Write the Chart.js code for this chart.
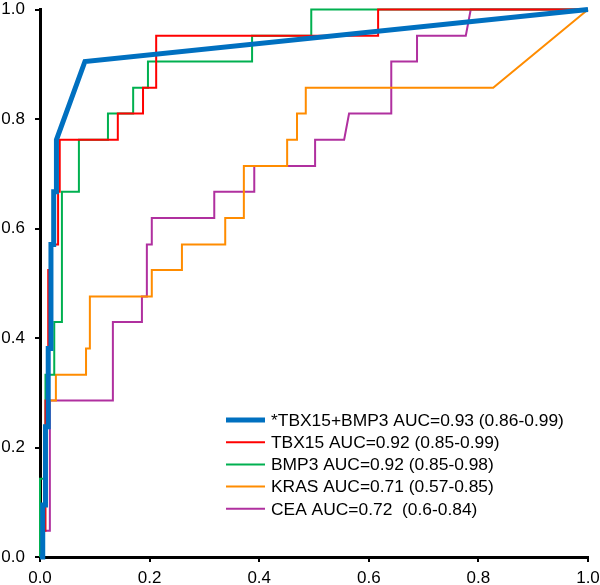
<!DOCTYPE html>
<html>
<head>
<meta charset="utf-8">
<script src="https://cdn.jsdelivr.net/npm/chart.js@4/dist/chart.umd.min.js"></script>
<style>
  html, body { margin: 0; padding: 0; background: #fff; }
  #wrap { width: 600px; height: 585px; position: relative; }
</style>
</head>
<body>
<div id="wrap"><canvas id="c" width="600" height="585"></canvas></div>
<script>
// ---- Data (false positive rate = x, sensitivity = y) ----
const seriesLabels = [
  "*TBX15+BMP3 AUC=0.93 (0.86-0.99)",
  "TBX15 AUC=0.92 (0.85-0.99)",
  "BMP3 AUC=0.92 (0.85-0.98)",
  "KRAS AUC=0.71 (0.57-0.85)",
  "CEA AUC=0.72  (0.6-0.84)"
];
const comboX = [0, 0.005, 0.005, 0.01, 0.01, 0.015, 0.015, 0.02, 0.02, 0.025, 0.025, 0.03, 0.03, 0.082, 1];
const comboY = [0, 0, 0.095, 0.095, 0.238, 0.238, 0.381, 0.381, 0.571, 0.571, 0.667, 0.667, 0.762, 0.905, 1];

const tbx15X = [0, 0.004, 0.004, 0.01, 0.01, 0.015, 0.015, 0.02, 0.02, 0.033, 0.033, 0.036, 0.036, 0.142, 0.142, 0.188, 0.188, 0.212, 0.212, 0.617, 0.617, 1];
const tbx15Y = [0, 0, 0.048, 0.048, 0.286, 0.286, 0.524, 0.524, 0.571, 0.571, 0.667, 0.667, 0.762, 0.762, 0.810, 0.810, 0.857, 0.857, 0.952, 0.952, 1, 1];

const bmp3X = [0, 0, 0.01, 0.01, 0.026, 0.026, 0.040, 0.040, 0.071, 0.071, 0.124, 0.124, 0.170, 0.170, 0.197, 0.197, 0.387, 0.387, 0.495, 0.495, 1];
const bmp3Y = [0, 0.143, 0.143, 0.333, 0.333, 0.429, 0.429, 0.667, 0.667, 0.762, 0.762, 0.810, 0.810, 0.857, 0.857, 0.905, 0.905, 0.952, 0.952, 1, 1];

const krasX = [0, 0, 0.009, 0.009, 0.015, 0.015, 0.029, 0.029, 0.084, 0.084, 0.091, 0.091, 0.204, 0.204, 0.259, 0.259, 0.338, 0.338, 0.372, 0.372, 0.451, 0.451, 0.469, 0.469, 0.485, 0.485, 0.827, 1];
const krasY = [0, 0.095, 0.095, 0.238, 0.238, 0.286, 0.286, 0.333, 0.333, 0.381, 0.381, 0.476, 0.476, 0.524, 0.524, 0.571, 0.571, 0.619, 0.619, 0.714, 0.714, 0.762, 0.762, 0.810, 0.810, 0.857, 0.857, 1];

const ceaX = [0, 0, 0.018, 0.018, 0.133, 0.133, 0.186, 0.186, 0.195, 0.195, 0.204, 0.204, 0.318, 0.318, 0.391, 0.391, 0.502, 0.502, 0.555, 0.564, 0.641, 0.641, 0.688, 0.688, 0.777, 0.786, 1];
const ceaY = [0, 0.048, 0.048, 0.286, 0.286, 0.429, 0.429, 0.476, 0.476, 0.571, 0.571, 0.619, 0.619, 0.667, 0.667, 0.714, 0.714, 0.762, 0.762, 0.810, 0.810, 0.905, 0.905, 0.952, 0.952, 1, 1];

const tickValues = [0, 0.2, 0.4, 0.6, 0.8, 1.0];
const tickLabels = ["0.0", "0.2", "0.4", "0.6", "0.8", "1.0"];

// ---- Build ----
function pts(xs, ys) { return xs.map((x, i) => ({ x: x, y: ys[i] })); }
const colors = ["#0070C0", "#FF0000", "#00B050", "#FF8C00", "#B0309F"];
const widths = [5, 2, 2, 2, 2];
const xsList = [comboX, tbx15X, bmp3X, krasX, ceaX];
const ysList = [comboY, tbx15Y, bmp3Y, krasY, ceaY];

const datasets = seriesLabels.map((lab, i) => ({
  label: lab,
  data: pts(xsList[i], ysList[i]),
  borderColor: colors[i],
  backgroundColor: colors[i],
  borderWidth: widths[i],
  showLine: true,
  pointRadius: 0,
  tension: 0,
  clip: false,
  borderJoinStyle: 'miter'
}));

const FONT = "'Liberation Sans', Arial, sans-serif";

const legendPlugin = {
  id: 'customLegend',
  afterDraw(chart) {
    const ctx = chart.ctx;
    ctx.save();
    ctx.font = "17.4px " + FONT;
    ctx.textBaseline = 'middle';
    ctx.textAlign = 'left';
    const x0 = 226, x1 = 265, tx = 271, y0 = 420, dy = 22.2;
    chart.data.datasets.forEach((ds, i) => {
      const y = y0 + i * dy;
      ctx.strokeStyle = ds.borderColor;
      ctx.lineWidth = ds.borderWidth;
      ctx.beginPath();
      ctx.moveTo(x0, y);
      ctx.lineTo(x1, y);
      ctx.stroke();
      ctx.fillStyle = '#000';
      ctx.fillText(ds.label, tx, y + 1);
    });
    ctx.restore();
  }
};

new Chart(document.getElementById('c'), {
  type: 'scatter',
  data: { datasets: datasets },
  options: {
    responsive: false,
    animation: false,
    devicePixelRatio: 1,
    layout: { padding: { top: 9.5, right: 12, left: 0, bottom: 0 } },
    plugins: { legend: { display: false }, tooltip: { enabled: false } },
    scales: {
      x: {
        type: 'linear', min: 0, max: 1,
        afterFit(s) { s.height = 28; s.paddingLeft = 0; s.paddingRight = 0; },
        afterBuildTicks(s) { s.ticks = tickValues.map(v => ({ value: v })); },
        ticks: {
          callback: (v) => tickLabels[tickValues.indexOf(Math.round(v * 10) / 10)],
          font: { family: FONT, size: 17 }, color: '#000', padding: 6, maxRotation: 0
        },
        grid: { drawOnChartArea: false, drawTicks: true, tickLength: 5, color: '#000', lineWidth: 2 },
        border: { display: true, color: '#000', width: 3 }
      },
      y: {
        type: 'linear', min: 0, max: 1,
        afterFit(s) { s.width = 40; s.paddingTop = 0; s.paddingBottom = 0; },
        afterBuildTicks(s) { s.ticks = tickValues.map(v => ({ value: v })); },
        ticks: {
          callback: (v) => tickLabels[tickValues.indexOf(Math.round(v * 10) / 10)],
          font: { family: FONT, size: 17 }, color: '#000', padding: 10
        },
        grid: { drawOnChartArea: false, drawTicks: true, tickLength: 5, color: '#000', lineWidth: 2 },
        border: { display: true, color: '#000', width: 3 }
      }
    }
  },
  plugins: [legendPlugin]
});
</script>
</body>
</html>
